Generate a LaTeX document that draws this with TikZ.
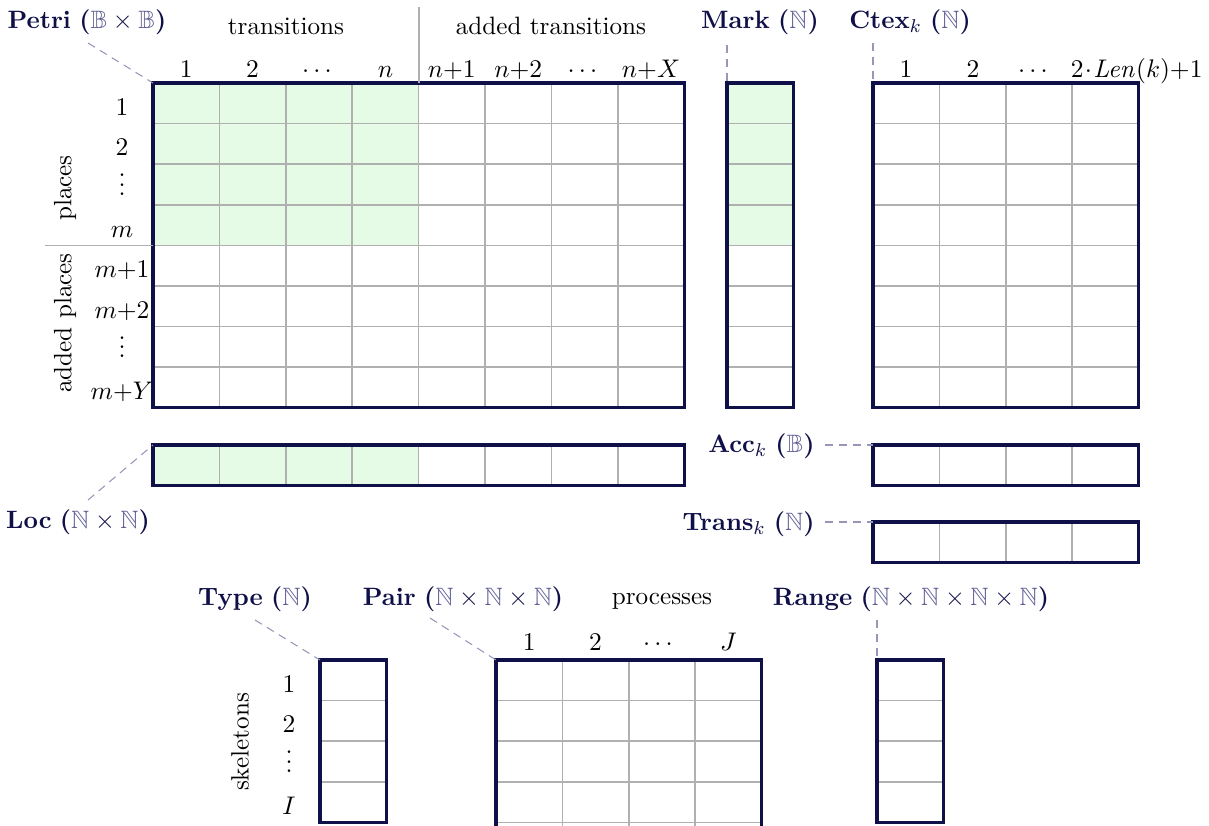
\documentclass[tikz,border=0pt]{standalone}
\usepackage{amsmath,amssymb}
\usetikzlibrary{calc}

\definecolor{navy}{RGB}{16,16,72}
\definecolor{bbcol}{RGB}{95,95,150}
\definecolor{cellgray}{RGB}{176,176,176}
\definecolor{cellgreen}{RGB}{229,251,229}
\definecolor{leadcol}{RGB}{150,150,185}

\newcommand{\BB}{\textcolor{bbcol}{\mathbb{B}}}
\newcommand{\NN}{\textcolor{bbcol}{\mathbb{N}}}
% array name with its domain, e.g. \arrname{Petri}{}{\BB\times\BB}
\newcommand{\arrname}[3]{\textcolor{navy}{\textbf{#1}$#2$ \textbf{(}$#3$\textbf{)}}}
% compact vertical dots
\newcommand{\dotcol}{\vbox{\baselineskip4pt\lineskiplimit0pt\hbox{.}\hbox{.}\hbox{.}}}

% cell grid: #1 x0, #2 y0, #3 columns, #4 rows
\newcommand{\cellgrid}[4]{%
  \pgfmathsetmacro\gxe{#1+#3*66.4}%
  \pgfmathsetmacro\gye{#2+#4*40.6}%
  \foreach \i in {1,...,#3}{%
    \ifnum\i<#3
      \draw[gridline] ({#1+\i*66.4},#2) -- ({#1+\i*66.4},\gye);
    \fi}%
  \foreach \j in {1,...,#4}{%
    \ifnum\j<#4
      \draw[gridline] (#1,{#2+\j*40.6}) -- (\gxe,{#2+\j*40.6});
    \fi}%
  \draw[frame] (#1,#2) rectangle (\gxe,\gye);
}

\begin{document}
\begin{tikzpicture}[x=0.43pt,y=-0.43pt,
  font=\fontsize{10.8}{13}\selectfont,
  gridline/.style={draw=cellgray,line width=0.65pt},
  frame/.style={draw=navy,line width=1.4pt},
  sepline/.style={draw=cellgray,line width=0.65pt},
  leader/.style={draw=leadcol,line width=0.45pt,dash pattern=on 3.5pt off 2.5pt},
  lbl/.style={inner sep=0pt,anchor=base},
  dts/.style={inner sep=0pt,anchor=base},
  rot/.style={inner sep=0pt,rotate=90,anchor=center}]
\useasboundingbox (0,0) rectangle (1209,825);
\begin{scope}
\clip (0,0) rectangle (1209,825);

% shaded parts
\fill[cellgreen] (153,83) rectangle ({153+4*66.4},{83+4*40.6});
\fill[cellgreen] (727,83) rectangle ({727+66.4},{83+4*40.6});
\fill[cellgreen] (153,445) rectangle ({153+4*66.4},{445+40.6});

% arrays
\cellgrid{153}{83}{8}{8}    % Petri
\cellgrid{727}{83}{1}{8}    % Mark
\cellgrid{873}{83}{4}{8}    % Ctex
\cellgrid{153}{445}{8}{1}   % Loc
\cellgrid{873}{445}{4}{1}   % Acc
\cellgrid{873}{522}{4}{1}   % Trans
\cellgrid{320}{660}{1}{4}   % Type
\cellgrid{496}{660}{4}{5}   % Pair
\cellgrid{877}{660}{1}{4}   % Range

% corner anchors of the arrays
\coordinate (petriC) at (153,83);
\coordinate (markC) at (727,83);
\coordinate (ctexC) at (873,83);
\coordinate (locC) at (153,445);
\coordinate (accC) at (873,445);
\coordinate (transC) at (873,522);
\coordinate (typeC) at (320,660);
\coordinate (pairC) at (496,660);
\coordinate (rangeC) at (877,660);

% separators
\coordinate (sepT) at (419,7);
\coordinate (sepB) at (419,83);
\draw[sepline] (sepT) -- (sepB);
\coordinate (sepL) at (45,245.4);
\coordinate (sepR) at (153,245.4);
\draw[sepline] (sepL) -- (sepR);

% array names
\node[lbl] (petri) at (87,28) {\arrname{Petri}{}{\BB\times\BB}};
\node[lbl] (mark) at (760,28) {\arrname{Mark}{}{\NN}};
\node[lbl] (ctex) at (910,28) {\arrname{Ctex}{_{k}}{\NN}};
\node[lbl] (loc) at (78,528) {\arrname{Loc}{}{\NN\times\NN}};
\node[lbl,anchor=base east] (acc) at (815,452) {\arrname{Acc}{_{k}}{\BB}};
\node[lbl,anchor=base east] (trans) at (815,530) {\arrname{Trans}{_{k}}{\NN}};
\node[lbl] (type) at (255,605) {\arrname{Type}{}{\NN}};
\node[lbl] (pair) at (463,605) {\arrname{Pair}{}{\NN\times\NN\times\NN}};
\node[lbl] (range) at (911,605) {\arrname{Range}{}{\NN\times\NN\times\NN\times\NN}};

% leaders from names to arrays
\coordinate (petriL) at (88,43);
\coordinate (locL) at (88,500);
\coordinate (markL) at (727,45);
\coordinate (ctexL) at (873,43);
\coordinate (accL) at (825,445);
\coordinate (transL) at (825,522);
\coordinate (typeL) at (255,620);
\coordinate (pairL) at (430,618);
\coordinate (rangeL) at (877,620);
\draw[leader] (petriL) -- (petriC);
\draw[leader] (locL) -- (locC);
\draw[leader] (markL) -- (markC);
\draw[leader] (ctexL) -- (ctexC);
\draw[leader] (accL) -- (accC);
\draw[leader] (transL) -- (transC);
\draw[leader] (typeL) -- (typeC);
\draw[leader] (pairL) -- (pairC);
\draw[leader] (rangeL) -- (rangeC);

% group captions
\node[lbl] (trh) at (286,34) {transitions};
\node[lbl] (atrh) at (551,34) {added transitions};
\node[lbl] (prh) at (662,604) {processes};
\node[rot] (plh) at (65,188) {places};
\node[rot] (aplh) at (65,323) {added places};
\node[rot] (skh) at (240,742) {skeletons};

% Petri column headers
\node[lbl] (c1) at (186.2,77) {$1$};
\node[lbl] (c2) at (252.6,77) {$2$};
\node[dts] (c3) at (319,77) {$\cdots$};
\node[lbl] (c4) at (385.4,77) {$n$};
\node[lbl] (c5) at (451.8,77) {$n{+}1$};
\node[lbl] (c6) at (518.2,77) {$n{+}2$};
\node[dts] (c7) at (584.6,77) {$\cdots$};
\node[lbl] (c8) at (651,77) {$n{+}X$};

% Petri row headers
\node[lbl] (r1) at (122,115.3) {$1$};
\node[lbl] (r2) at (122,155.9) {$2$};
\node[dts] (r3) at (122,195.5) {\dotcol};
\node[lbl] (r4) at (122,237.1) {$m$};
\node[lbl] (r5) at (122,277.7) {$m{+}1$};
\node[lbl] (r6) at (122,318.3) {$m{+}2$};
\node[dts] (r7) at (122,357.9) {\dotcol};
\node[lbl] (r8) at (122,399.5) {$m{+}Y$};

% Ctex column headers
\node[lbl] (k1) at (906,77) {$1$};
\node[lbl] (k2) at (973,77) {$2$};
\node[dts] (k3) at (1035,77) {$\cdots$};
\node[lbl,anchor=base east] (k4) at (1203,77) {$2\!\cdot\! \mathit{Len}(k){+}1$};

% Type row headers
\node[lbl] (t1) at (289,692.3) {$1$};
\node[lbl] (t2) at (289,732.9) {$2$};
\node[dts] (t3) at (289,772.5) {\dotcol};
\node[lbl] (t4) at (289,814.1) {$I$};

% Pair column headers
\node[lbl] (p1) at (529.2,650) {$1$};
\node[lbl] (p2) at (595.6,650) {$2$};
\node[dts] (p3) at (660,650) {$\cdots$};
\node[lbl] (p4) at (728.4,650) {$J$};
\end{scope}
\end{tikzpicture}
\end{document}
